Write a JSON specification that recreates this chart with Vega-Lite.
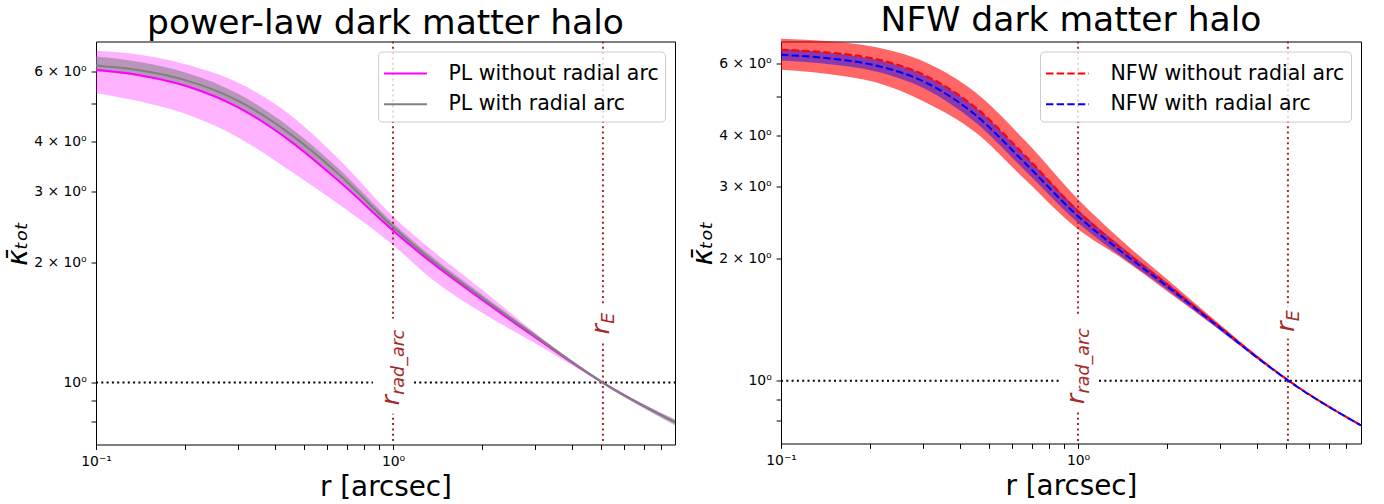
{
  "$schema": "https://vega.github.io/schema/vega-lite/v6.json",
  "background": "white",
  "padding": {"left": 4, "top": 1.5, "right": 5, "bottom": 0},
  "spacing": 9,
  "config": {
    "font": "DejaVu Sans",
    "view": {"stroke": "black", "strokeWidth": 1},
    "axis": {
      "grid": false, "domain": false,
      "labelFont": "DejaVu Sans", "labelFontSize": 13.9, "labelColor": "black",
      "tickColor": "black", "tickSize": 4.9, "tickWidth": 1, "labelPadding": 4.9,
      "titleFont": "DejaVu Sans", "titleFontSize": 27.8, "titleFontWeight": "normal", "titleColor": "black",
      "labelFlush": false, "labelOverlap": false
    },
    "title": {"font": "DejaVu Sans", "fontSize": 34.5, "fontWeight": "normal", "color": "black", "anchor": "middle"},
    "legend": {
      "orient": "top-right", "offset": 10, "padding": 6,
      "labelFont": "DejaVu Sans", "labelFontSize": 20.5, "labelColor": "black", "labelLimit": 0,
      "symbolType": "M-1.43,0H1.43", "symbolSize": 900, "symbolStrokeWidth": 2, "symbolOffset": 5.5,
      "fillColor": "rgba(255,255,255,0.8)", "strokeColor": "#cccccc", "cornerRadius": 4,
      "labelOffset": 27, "rowPadding": 3.75
    }
  },
  "datasets": {
    "pl": [
      {"r": 0.1, "series": "PL without radial arc", "mean": 6.059, "lo": 5.295, "hi": 6.760},
      {"r": 0.14, "series": "PL without radial arc", "mean": 5.874, "lo": 5.055, "hi": 6.610},
      {"r": 0.2, "series": "PL without radial arc", "mean": 5.528, "lo": 4.705, "hi": 6.256},
      {"r": 0.3, "series": "PL without radial arc", "mean": 4.887, "lo": 4.111, "hi": 5.628},
      {"r": 0.45, "series": "PL without radial arc", "mean": 4.024, "lo": 3.386, "hi": 4.675},
      {"r": 0.65, "series": "PL without radial arc", "mean": 3.215, "lo": 2.808, "hi": 3.649},
      {"r": 1.0, "series": "PL without radial arc", "mean": 2.402, "lo": 2.210, "hi": 2.604},
      {"r": 1.35, "series": "PL without radial arc", "mean": 1.996, "lo": 1.816, "hi": 2.146},
      {"r": 2.0, "series": "PL without radial arc", "mean": 1.609, "lo": 1.493, "hi": 1.705},
      {"r": 2.9, "series": "PL without radial arc", "mean": 1.323, "lo": 1.274, "hi": 1.362},
      {"r": 4.25, "series": "PL without radial arc", "mean": 1.089, "lo": 1.077, "hi": 1.098},
      {"r": 5.08, "series": "PL without radial arc", "mean": 1.0, "lo": 0.998, "hi": 1.002},
      {"r": 8.9, "series": "PL without radial arc", "mean": 0.796, "lo": 0.792, "hi": 0.7996},
      {"r": 0.1, "series": "PL with radial arc", "mean": 6.210, "lo": 5.998, "hi": 6.541},
      {"r": 0.14, "series": "PL with radial arc", "mean": 6.045, "lo": 5.845, "hi": 6.338},
      {"r": 0.2, "series": "PL with radial arc", "mean": 5.709, "lo": 5.525, "hi": 5.964},
      {"r": 0.3, "series": "PL with radial arc", "mean": 5.073, "lo": 4.887, "hi": 5.283},
      {"r": 0.45, "series": "PL with radial arc", "mean": 4.190, "lo": 4.029, "hi": 4.345},
      {"r": 0.65, "series": "PL with radial arc", "mean": 3.346, "lo": 3.243, "hi": 3.449},
      {"r": 1.0, "series": "PL with radial arc", "mean": 2.450, "lo": 2.388, "hi": 2.508},
      {"r": 1.35, "series": "PL with radial arc", "mean": 2.025, "lo": 1.985, "hi": 2.067},
      {"r": 2.0, "series": "PL with radial arc", "mean": 1.628, "lo": 1.600, "hi": 1.656},
      {"r": 2.9, "series": "PL with radial arc", "mean": 1.335, "lo": 1.318, "hi": 1.352},
      {"r": 4.25, "series": "PL with radial arc", "mean": 1.092, "lo": 1.083, "hi": 1.102},
      {"r": 5.08, "series": "PL with radial arc", "mean": 1.0, "lo": 0.9925, "hi": 1.0075},
      {"r": 8.9, "series": "PL with radial arc", "mean": 0.796, "lo": 0.7821, "hi": 0.8097}
    ],
    "nfw": [
      {"r": 0.1, "series": "NFW without radial arc", "mean": 6.494, "lo": 5.800, "hi": 6.911},
      {"r": 0.146, "series": "NFW without radial arc", "mean": 6.389, "lo": 5.657, "hi": 6.810},
      {"r": 0.207, "series": "NFW without radial arc", "mean": 6.170, "lo": 5.410, "hi": 6.595},
      {"r": 0.305, "series": "NFW without radial arc", "mean": 5.622, "lo": 4.834, "hi": 6.061},
      {"r": 0.45, "series": "NFW without radial arc", "mean": 4.698, "lo": 4.079, "hi": 5.114},
      {"r": 0.663, "series": "NFW without radial arc", "mean": 3.572, "lo": 3.119, "hi": 3.888},
      {"r": 1.0, "series": "NFW without radial arc", "mean": 2.608, "lo": 2.356, "hi": 2.791},
      {"r": 1.385, "series": "NFW without radial arc", "mean": 2.124, "lo": 2.013, "hi": 2.229},
      {"r": 1.963, "series": "NFW without radial arc", "mean": 1.742, "lo": 1.674, "hi": 1.792},
      {"r": 2.893, "series": "NFW without radial arc", "mean": 1.385, "lo": 1.359, "hi": 1.408},
      {"r": 4.262, "series": "NFW without radial arc", "mean": 1.105, "lo": 1.096, "hi": 1.113},
      {"r": 5.09, "series": "NFW without radial arc", "mean": 1.004, "lo": 0.998, "hi": 1.010},
      {"r": 8.97, "series": "NFW without radial arc", "mean": 0.777, "lo": 0.773, "hi": 0.782},
      {"r": 0.1, "series": "NFW with radial arc", "mean": 6.312, "lo": 6.109, "hi": 6.523},
      {"r": 0.146, "series": "NFW with radial arc", "mean": 6.181, "lo": 5.983, "hi": 6.389},
      {"r": 0.207, "series": "NFW with radial arc", "mean": 5.949, "lo": 5.752, "hi": 6.153},
      {"r": 0.305, "series": "NFW with radial arc", "mean": 5.410, "lo": 5.208, "hi": 5.618},
      {"r": 0.45, "series": "NFW with radial arc", "mean": 4.503, "lo": 4.316, "hi": 4.698},
      {"r": 0.663, "series": "NFW with radial arc", "mean": 3.423, "lo": 3.282, "hi": 3.572},
      {"r": 1.0, "series": "NFW with radial arc", "mean": 2.535, "lo": 2.444, "hi": 2.630},
      {"r": 1.385, "series": "NFW with radial arc", "mean": 2.088, "lo": 2.030, "hi": 2.148},
      {"r": 1.963, "series": "NFW with radial arc", "mean": 1.722, "lo": 1.689, "hi": 1.757},
      {"r": 2.893, "series": "NFW with radial arc", "mean": 1.378, "lo": 1.359, "hi": 1.397},
      {"r": 4.262, "series": "NFW with radial arc", "mean": 1.102, "lo": 1.095, "hi": 1.110},
      {"r": 5.09, "series": "NFW with radial arc", "mean": 1.002, "lo": 0.998, "hi": 1.007},
      {"r": 8.97, "series": "NFW with radial arc", "mean": 0.777, "lo": 0.7735, "hi": 0.7806}
    ],
    "vlines": [{"r": 1.0}, {"r": 5.09}],
    "hline_pl": [{"r": 0.1, "r2": 8.9, "k": 1.0}],
    "hline_nfw": [{"r": 0.1, "r2": 8.97, "k": 1.0}],
    "boxes_pl": [
      {"r": 0.856, "r2": 1.159, "k": 0.836, "k2": 1.446},
      {"r": 4.61, "r2": 5.59, "k": 1.266, "k2": 1.567}
    ],
    "boxes_nfw": [
      {"r": 0.87, "r2": 1.168, "k": 0.841, "k2": 1.438},
      {"r": 4.64, "r2": 5.59, "k": 1.27, "k2": 1.522}
    ],
    "ann": [
      {"r": 1.0, "k": 0.877, "main": "r", "sub": "rad_arc"},
      {"r": 5.09, "k": 1.32, "main": "r", "sub": "E"}
    ]
  },
  "resolve": {
    "scale": {"x": "independent", "y": "independent", "color": "independent"},
    "legend": {"color": "independent"},
    "axis": {"x": "independent", "y": "independent"}
  },
  "hconcat": [
    {
      "width": 579, "height": 403,
      "title": {"text": "power-law dark matter halo", "offset": -1.2},
      "layer": [
        {
          "data": {"name": "pl"},
          "transform": [{"filter": "datum.series == 'PL without radial arc'"}],
          "mark": {"type": "area", "color": "#ff00ff", "opacity": 0.3, "interpolate": "monotone"},
          "encoding": {
            "x": {"field": "r", "type": "quantitative", "title": "r [arcsec]", "scale": {"type": "log", "domain": [0.1, 8.9], "nice": false},
              "axis": {"values": [0.1, 0.2, 0.3, 0.4, 0.5, 0.6, 0.7, 0.8, 0.9, 1, 2, 3, 4, 5, 6, 7, 8], "labelExpr": "abs(datum.value - 0.1) < 1e-9 ? '10⁻¹' : (abs(datum.value - 1) < 1e-9 ? '10⁰' : '')", "titlePadding": 5}},
            "y": {"field": "lo", "type": "quantitative", "title": "κ̄ₜₒₜ", "scale": {"type": "log", "domain": [0.70, 7.131], "nice": false},
              "axis": {"values": [0.8, 0.9, 1, 2, 3, 4, 5, 6], "labelExpr": "datum.value == 1 ? '10⁰' : ((datum.value == 2 || datum.value == 3 || datum.value == 4 || datum.value == 6) ? datum.value + ' × 10⁰' : '')", "titlePadding": 1, "titleFontStyle": "italic"}},
            "y2": {"field": "hi"}
          }
        },
        {
          "data": {"name": "pl"},
          "transform": [{"filter": "datum.series == 'PL with radial arc'"}],
          "mark": {"type": "area", "color": "#808080", "opacity": 0.55, "interpolate": "monotone"},
          "encoding": {
            "x": {"field": "r", "type": "quantitative", "title": "r [arcsec]", "scale": {"type": "log", "domain": [0.1, 8.9], "nice": false}},
            "y": {"field": "lo", "type": "quantitative", "title": "κ̄ₜₒₜ", "scale": {"type": "log", "domain": [0.70, 7.131], "nice": false}},
            "y2": {"field": "hi"}
          }
        },
        {
          "data": {"name": "vlines"},
          "mark": {"type": "rule", "color": "#a52a2a", "strokeWidth": 2, "strokeDash": [2, 3.3]},
          "encoding": {
            "x": {"field": "r", "type": "quantitative", "title": "r [arcsec]", "scale": {"type": "log", "domain": [0.1, 8.9], "nice": false}}
          }
        },
        {
          "data": {"name": "hline_pl"},
          "mark": {"type": "rule", "color": "black", "strokeWidth": 2, "strokeDash": [2, 3.3]},
          "encoding": {
            "x": {"field": "r", "type": "quantitative", "title": "r [arcsec]", "scale": {"type": "log", "domain": [0.1, 8.9], "nice": false}},
            "x2": {"field": "r2"},
            "y": {"field": "k", "type": "quantitative", "title": "κ̄ₜₒₜ", "scale": {"type": "log", "domain": [0.70, 7.131], "nice": false}}
          }
        },
        {
          "data": {"name": "boxes_pl"},
          "mark": {"type": "rect", "fill": "white", "stroke": null},
          "encoding": {
            "x": {"field": "r", "type": "quantitative", "title": "r [arcsec]", "scale": {"type": "log", "domain": [0.1, 8.9], "nice": false}},
            "x2": {"field": "r2"},
            "y": {"field": "k", "type": "quantitative", "title": "κ̄ₜₒₜ", "scale": {"type": "log", "domain": [0.70, 7.131], "nice": false}},
            "y2": {"field": "k2"}
          }
        },
        {
          "data": {"name": "pl"},
          "mark": {"type": "line", "strokeWidth": 2, "interpolate": "monotone"},
          "encoding": {
            "x": {"field": "r", "type": "quantitative", "title": "r [arcsec]", "scale": {"type": "log", "domain": [0.1, 8.9], "nice": false}},
            "y": {"field": "mean", "type": "quantitative", "title": "κ̄ₜₒₜ", "scale": {"type": "log", "domain": [0.70, 7.131], "nice": false}},
            "color": {"field": "series", "type": "nominal", "sort": ["PL without radial arc", "PL with radial arc"],
              "scale": {"domain": ["PL without radial arc", "PL with radial arc"], "range": ["#ff00ff", "#808080"]},
              "legend": {"title": null}}
          }
        },
        {
          "data": {"name": "ann"},
          "mark": {"type": "text", "angle": 270, "align": "left", "baseline": "alphabetic", "fontSize": 25, "fontStyle": "italic", "color": "#a52a2a", "dy": 6},
          "encoding": {
            "x": {"field": "r", "type": "quantitative", "title": "r [arcsec]", "scale": {"type": "log", "domain": [0.1, 8.9], "nice": false}},
            "y": {"field": "k", "type": "quantitative", "title": "κ̄ₜₒₜ", "scale": {"type": "log", "domain": [0.70, 7.131], "nice": false}},
            "text": {"field": "main"}
          }
        },
        {
          "data": {"name": "ann"},
          "mark": {"type": "text", "angle": 270, "align": "left", "baseline": "alphabetic", "fontSize": 17.5, "fontStyle": "italic", "color": "#a52a2a", "dx": 10.5, "dy": 11},
          "encoding": {
            "x": {"field": "r", "type": "quantitative", "title": "r [arcsec]", "scale": {"type": "log", "domain": [0.1, 8.9], "nice": false}},
            "y": {"field": "k", "type": "quantitative", "title": "κ̄ₜₒₜ", "scale": {"type": "log", "domain": [0.70, 7.131], "nice": false}},
            "text": {"field": "sub"}
          }
        }
      ]
    },
    {
      "width": 580, "height": 402,
      "title": {"text": "NFW dark matter halo", "offset": 0.5},
      "layer": [
        {
          "data": {"name": "nfw"},
          "transform": [{"filter": "datum.series == 'NFW without radial arc'"}],
          "mark": {"type": "area", "color": "#ff0000", "opacity": 0.6, "interpolate": "monotone"},
          "encoding": {
            "x": {"field": "r", "type": "quantitative", "title": "r [arcsec]", "scale": {"type": "log", "domain": [0.1, 8.97], "nice": false},
              "axis": {"values": [0.1, 0.2, 0.3, 0.4, 0.5, 0.6, 0.7, 0.8, 0.9, 1, 2, 3, 4, 5, 6, 7, 8], "labelExpr": "abs(datum.value - 0.1) < 1e-9 ? '10⁻¹' : (abs(datum.value - 1) < 1e-9 ? '10⁰' : '')", "titlePadding": 5}},
            "y": {"field": "lo", "type": "quantitative", "title": "κ̄ₜₒₜ", "scale": {"type": "log", "domain": [0.7016, 6.804], "nice": false},
              "axis": {"values": [0.8, 0.9, 1, 2, 3, 4, 5, 6], "labelExpr": "datum.value == 1 ? '10⁰' : ((datum.value == 2 || datum.value == 3 || datum.value == 4 || datum.value == 6) ? datum.value + ' × 10⁰' : '')", "titlePadding": 1, "titleFontStyle": "italic"}},
            "y2": {"field": "hi"}
          }
        },
        {
          "data": {"name": "nfw"},
          "transform": [{"filter": "datum.series == 'NFW with radial arc'"}],
          "mark": {"type": "area", "color": "#0000ff", "opacity": 0.45, "interpolate": "monotone"},
          "encoding": {
            "x": {"field": "r", "type": "quantitative", "title": "r [arcsec]", "scale": {"type": "log", "domain": [0.1, 8.97], "nice": false}},
            "y": {"field": "lo", "type": "quantitative", "title": "κ̄ₜₒₜ", "scale": {"type": "log", "domain": [0.7016, 6.804], "nice": false}},
            "y2": {"field": "hi"}
          }
        },
        {
          "data": {"name": "vlines"},
          "mark": {"type": "rule", "color": "#a52a2a", "strokeWidth": 2, "strokeDash": [2, 3.3]},
          "encoding": {
            "x": {"field": "r", "type": "quantitative", "title": "r [arcsec]", "scale": {"type": "log", "domain": [0.1, 8.97], "nice": false}}
          }
        },
        {
          "data": {"name": "hline_nfw"},
          "mark": {"type": "rule", "color": "black", "strokeWidth": 2, "strokeDash": [2, 3.3]},
          "encoding": {
            "x": {"field": "r", "type": "quantitative", "title": "r [arcsec]", "scale": {"type": "log", "domain": [0.1, 8.97], "nice": false}},
            "x2": {"field": "r2"},
            "y": {"field": "k", "type": "quantitative", "title": "κ̄ₜₒₜ", "scale": {"type": "log", "domain": [0.7016, 6.804], "nice": false}}
          }
        },
        {
          "data": {"name": "boxes_nfw"},
          "mark": {"type": "rect", "fill": "white", "stroke": null},
          "encoding": {
            "x": {"field": "r", "type": "quantitative", "title": "r [arcsec]", "scale": {"type": "log", "domain": [0.1, 8.97], "nice": false}},
            "x2": {"field": "r2"},
            "y": {"field": "k", "type": "quantitative", "title": "κ̄ₜₒₜ", "scale": {"type": "log", "domain": [0.7016, 6.804], "nice": false}},
            "y2": {"field": "k2"}
          }
        },
        {
          "data": {"name": "nfw"},
          "mark": {"type": "line", "strokeWidth": 2, "interpolate": "monotone", "strokeDash": [7.4, 3.2]},
          "encoding": {
            "x": {"field": "r", "type": "quantitative", "title": "r [arcsec]", "scale": {"type": "log", "domain": [0.1, 8.97], "nice": false}},
            "y": {"field": "mean", "type": "quantitative", "title": "κ̄ₜₒₜ", "scale": {"type": "log", "domain": [0.7016, 6.804], "nice": false}},
            "color": {"field": "series", "type": "nominal", "sort": ["NFW without radial arc", "NFW with radial arc"],
              "scale": {"domain": ["NFW without radial arc", "NFW with radial arc"], "range": ["#ff0000", "#0000ff"]},
              "legend": {"title": null, "symbolDash": [7.4, 3.2]}}
          }
        },
        {
          "data": {"name": "ann"},
          "mark": {"type": "text", "angle": 270, "align": "left", "baseline": "alphabetic", "fontSize": 25, "fontStyle": "italic", "color": "#a52a2a", "dy": 6},
          "encoding": {
            "x": {"field": "r", "type": "quantitative", "title": "r [arcsec]", "scale": {"type": "log", "domain": [0.1, 8.97], "nice": false}},
            "y": {"field": "k", "type": "quantitative", "title": "κ̄ₜₒₜ", "scale": {"type": "log", "domain": [0.7016, 6.804], "nice": false}},
            "text": {"field": "main"}
          }
        },
        {
          "data": {"name": "ann"},
          "mark": {"type": "text", "angle": 270, "align": "left", "baseline": "alphabetic", "fontSize": 17.5, "fontStyle": "italic", "color": "#a52a2a", "dx": 10.5, "dy": 11},
          "encoding": {
            "x": {"field": "r", "type": "quantitative", "title": "r [arcsec]", "scale": {"type": "log", "domain": [0.1, 8.97], "nice": false}},
            "y": {"field": "k", "type": "quantitative", "title": "κ̄ₜₒₜ", "scale": {"type": "log", "domain": [0.7016, 6.804], "nice": false}},
            "text": {"field": "sub"}
          }
        }
      ]
    }
  ]
}
